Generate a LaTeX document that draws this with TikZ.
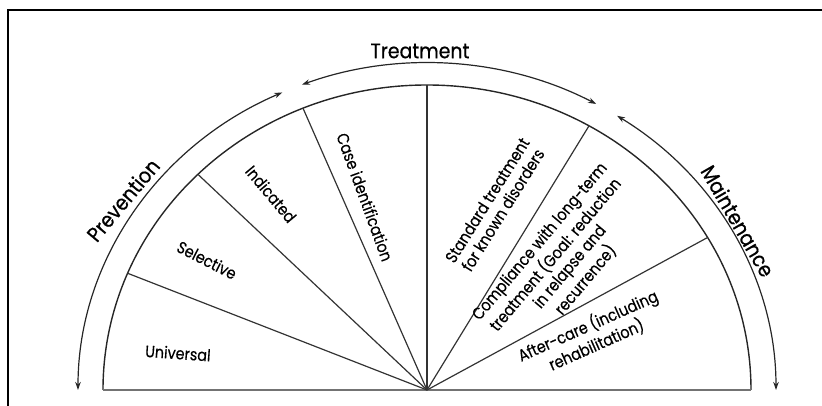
\documentclass[tikz,border=0pt]{standalone}
\usepackage{fontspec}
\setmainfont{Poppins}
% narrower cuts of the same family for the labels
\newfontfamily\phasefont{Poppins}[FakeStretch=0.9, FakeBold=0.6]
\newfontfamily\sectorfont{Poppins}[FakeStretch=0.87, FakeBold=0.3]
\usetikzlibrary{arrows.meta}
\begin{document}
\begin{tikzpicture}[x=1pt,y=1pt,
  rim/.style={line width=1.4pt, draw=black!85},
  base/.style={line width=2pt, draw=black!55},
  spoke/.style={line width=1.2pt, draw=black!80},
  cycle arrow/.style={line width=1.2pt, draw=black!85, {Stealth[length=8pt,width=5.5pt]}-{Stealth[length=8pt,width=5.5pt]}},
  phase/.style={font=\phasefont\fontsize{21}{23}\selectfont, inner sep=0pt},
  sector/.style={font=\sectorfont\fontsize{16.5}{18.5}\selectfont, inner sep=0pt, align=center},
]
\useasboundingbox (-427,-16) rectangle (395,390);
% frame
\draw[line width=2pt] (-419,-16) -- (-419,380) -- (395,380);

% inner half-ellipse and its spokes
\coordinate (O) at (0,0);
\coordinate (L) at (180:324pt and 305pt);
\coordinate (R) at (0:324pt and 305pt);
\coordinate (s1) at (157.5:324pt and 305pt);
\coordinate (s2) at (135:324pt and 305pt);
\coordinate (s3) at (112.5:324pt and 305pt);
\coordinate (s4) at (90:324pt and 305pt);
\coordinate (s5) at (60:324pt and 305pt);
\coordinate (s6) at (30:324pt and 305pt);
\draw[rim] (R) arc[start angle=0, end angle=180, x radius=324pt, y radius=305pt];
\draw[base] (L) -- (R);
\foreach \s in {s1,s2,s3,s4,s5,s6} \draw[spoke] (O) -- (\s);

% outer phase arrows
\coordinate (p1) at (114.5:349pt and 327pt);
\coordinate (t1) at (111:349pt and 327pt);
\coordinate (m1) at (57:349pt and 327pt);
\draw[cycle arrow] (p1) arc[start angle=114.5, end angle=180, x radius=349pt, y radius=327pt];
\draw[cycle arrow] (t1) arc[start angle=111, end angle=61, x radius=349pt, y radius=327pt];
\draw[cycle arrow] (m1) arc[start angle=57, end angle=0, x radius=349pt, y radius=327pt];

% phase labels
\node[phase] (treat) at (-7,339) {Treatment};
\node[phase, rotate=50] (prev) at (-304,190) {Prevention};
\node[phase, rotate=-60] (maint) at (311,169) {Maintenance};

% sector labels
\node[sector, rotate=-4] (univ) at (-249,37) {Universal};
\node[sector, rotate=-27] (sel) at (-220,130) {Selective};
\node[sector, rotate=-50] (ind) at (-156,196) {Indicated};
\node[sector, rotate=-70] (case) at (-62,193) {Case identification};
\node[sector, rotate=58] (std) at (68,185) {Standard treatment\\for known disorders};
\node[sector, rotate=50] (comp) at (136,129) {Compliance with long-term\\treatment (Goal: reduction\\in relapse and\\recurrence)};
\node[sector, rotate=24] (after) at (165,55) {After-care (including\\rehabilitation)};
\end{tikzpicture}
\end{document}
